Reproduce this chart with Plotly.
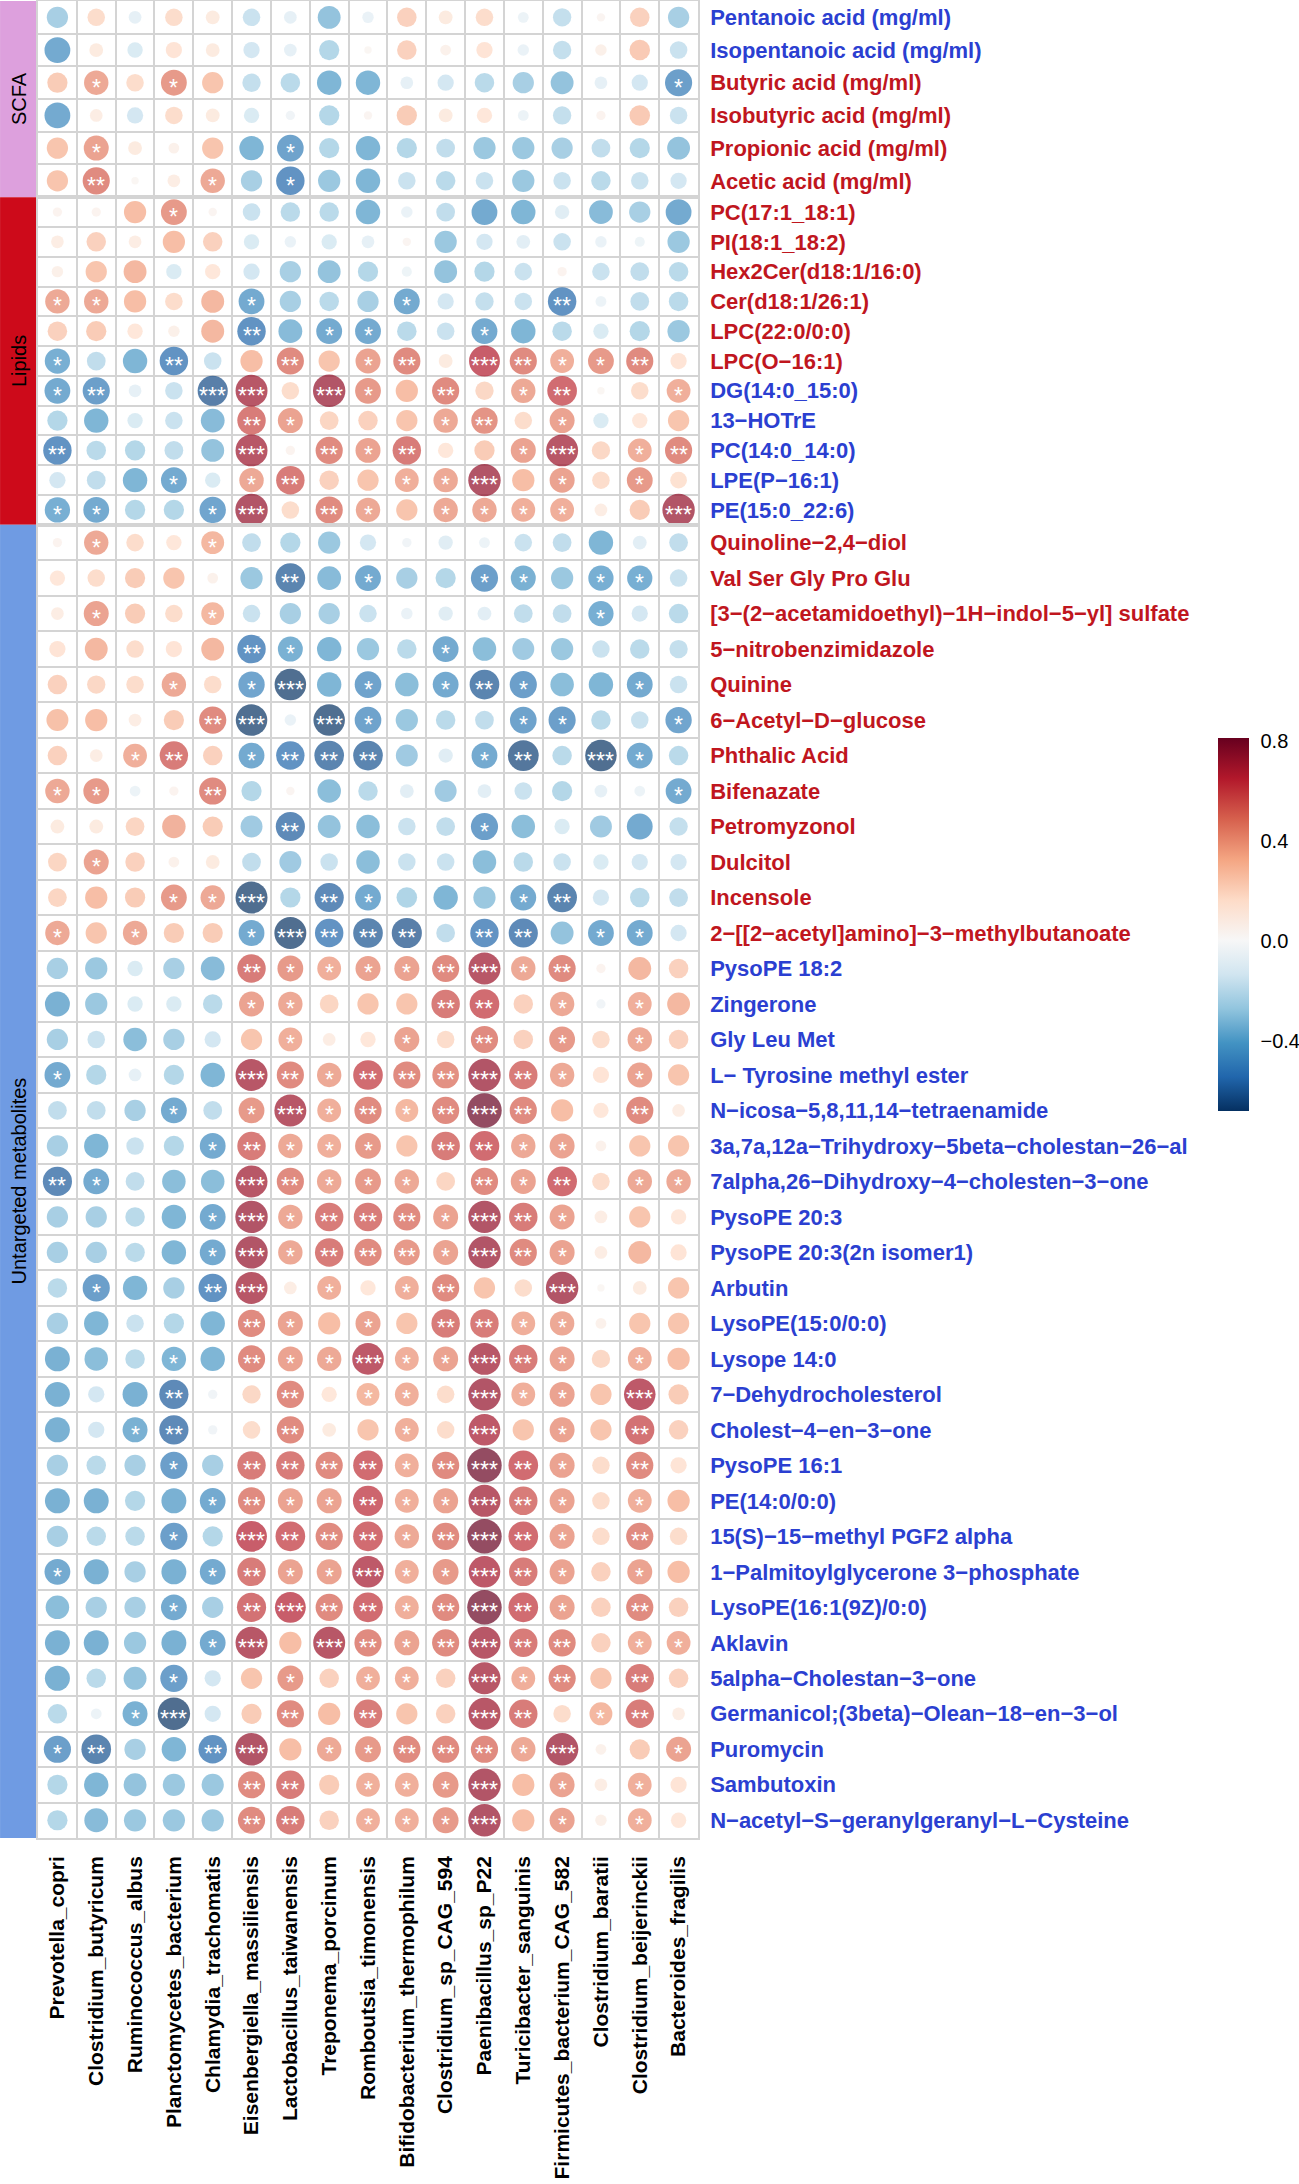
import plotly.graph_objects as go
from plotly.subplots import make_subplots

# ---- data -------------------------------------------------------------
bacteria = [
    "Prevotella_copri", "Clostridium_butyricum", "Ruminococcus_albus",
    "Planctomycetes_bacterium", "Chlamydia_trachomatis", "Eisenbergiella_massiliensis",
    "Lactobacillus_taiwanensis", "Treponema_porcinum", "Romboutsia_timonensis",
    "Bifidobacterium_thermophilum", "Clostridium_sp_CAG_594", "Paenibacillus_sp_P22",
    "Turicibacter_sanguinis", "Firmicutes_bacterium_CAG_582", "Clostridium_baratii",
    "Clostridium_beijerinckii", "Bacteroides_fragilis",
]

scfa_names = [
    "Pentanoic acid (mg/ml)", "Isopentanoic acid (mg/ml)", "Butyric acid (mg/ml)",
    "Isobutyric acid (mg/ml)", "Propionic acid (mg/ml)", "Acetic acid (mg/ml)",
]
scfa_trend = ["down", "down", "up", "up", "up", "up"]
scfa_r = [
    [-0.30, 0.20, -0.10, 0.20, 0.12, -0.20, -0.10, -0.35, -0.08, 0.25, 0.12, 0.20, -0.07, -0.22, 0.04, 0.25, -0.30],
    [-0.45, 0.12, -0.15, 0.17, 0.12, -0.17, -0.10, -0.27, 0.03, 0.25, 0.07, 0.17, -0.08, -0.22, 0.08, 0.28, -0.20],
    [0.27, 0.40, 0.20, 0.45, 0.30, -0.22, -0.25, -0.40, -0.40, -0.10, -0.17, -0.25, -0.30, -0.35, -0.10, -0.17, -0.50],
    [-0.45, 0.10, -0.17, 0.20, 0.12, -0.15, -0.05, -0.27, 0.04, 0.27, 0.12, 0.15, -0.07, -0.22, 0.05, 0.28, -0.20],
    [0.30, 0.42, 0.12, 0.07, 0.30, -0.40, -0.48, -0.27, -0.40, -0.27, -0.23, -0.33, -0.33, -0.30, -0.23, -0.27, -0.35],
    [0.30, 0.50, 0.03, 0.10, 0.40, -0.30, -0.55, -0.33, -0.40, -0.20, -0.25, -0.20, -0.33, -0.20, -0.25, -0.20, -0.17],
]
scfa_sig = [
    [0, 0, 0, 0, 0, 0, 0, 0, 0, 0, 0, 0, 0, 0, 0, 0, 0],
    [0, 0, 0, 0, 0, 0, 0, 0, 0, 0, 0, 0, 0, 0, 0, 0, 0],
    [0, 1, 0, 1, 0, 0, 0, 0, 0, 0, 0, 0, 0, 0, 0, 0, 1],
    [0, 0, 0, 0, 0, 0, 0, 0, 0, 0, 0, 0, 0, 0, 0, 0, 0],
    [0, 1, 0, 0, 0, 0, 1, 0, 0, 0, 0, 0, 0, 0, 0, 0, 0],
    [0, 2, 0, 0, 1, 0, 1, 0, 0, 0, 0, 0, 0, 0, 0, 0, 0],
]

lipid_names = [
    "PC(17:1_18:1)", "PI(18:1_18:2)", "Hex2Cer(d18:1/16:0)", "Cer(d18:1/26:1)",
    "LPC(22:0/0:0)", "LPC(O−16:1)", "DG(14:0_15:0)", "13−HOTrE",
    "PC(14:0_14:0)", "LPE(P−16:1)", "PE(15:0_22:6)",
]
lipid_trend = ["up"] * 6 + ["down"] * 5
lipid_r = [
    [0.05, 0.05, 0.33, 0.45, 0.04, -0.20, -0.25, -0.25, -0.40, -0.08, -0.23, -0.45, -0.40, -0.13, -0.38, -0.30, -0.45],
    [0.10, 0.25, 0.10, 0.33, 0.25, -0.15, -0.08, -0.15, -0.10, 0.04, -0.33, -0.17, -0.12, -0.20, -0.08, -0.06, -0.33],
    [0.08, 0.30, 0.35, -0.15, 0.15, -0.17, -0.30, -0.35, -0.27, -0.06, -0.35, -0.27, -0.20, 0.05, -0.20, -0.23, -0.25],
    [0.40, 0.40, 0.33, 0.20, 0.35, -0.45, -0.30, -0.25, -0.30, -0.45, -0.17, -0.22, -0.20, -0.55, -0.07, -0.23, -0.25],
    [0.25, 0.27, 0.15, 0.08, 0.35, -0.55, -0.38, -0.45, -0.45, -0.25, -0.20, -0.45, -0.40, -0.25, -0.15, -0.27, -0.33],
    [-0.43, -0.23, -0.40, -0.55, -0.20, 0.33, 0.50, 0.30, 0.42, 0.50, 0.12, 0.65, 0.50, 0.38, 0.45, 0.50, 0.17],
    [-0.45, -0.50, -0.10, -0.20, -0.62, 0.70, 0.20, 0.72, 0.45, 0.33, 0.50, 0.22, 0.40, 0.60, 0.03, 0.20, 0.38],
    [-0.27, -0.40, -0.15, -0.20, -0.38, 0.55, 0.42, 0.23, 0.25, 0.30, 0.40, 0.47, 0.20, 0.42, -0.15, 0.15, 0.30],
    [-0.55, -0.25, -0.27, -0.23, -0.35, 0.70, 0.05, 0.50, 0.42, 0.55, 0.15, 0.27, 0.42, 0.70, 0.22, 0.38, 0.50],
    [-0.17, -0.23, -0.40, -0.45, -0.15, 0.40, 0.55, 0.25, 0.30, 0.38, 0.40, 0.72, 0.33, 0.42, 0.20, 0.45, 0.18],
    [-0.43, -0.45, -0.27, -0.27, -0.47, 0.72, 0.20, 0.50, 0.40, 0.30, 0.40, 0.40, 0.38, 0.38, 0.10, 0.27, 0.72],
]
lipid_sig = [
    [0, 0, 0, 1, 0, 0, 0, 0, 0, 0, 0, 0, 0, 0, 0, 0, 0],
    [0, 0, 0, 0, 0, 0, 0, 0, 0, 0, 0, 0, 0, 0, 0, 0, 0],
    [0, 0, 0, 0, 0, 0, 0, 0, 0, 0, 0, 0, 0, 0, 0, 0, 0],
    [1, 1, 0, 0, 0, 1, 0, 0, 0, 1, 0, 0, 0, 2, 0, 0, 0],
    [0, 0, 0, 0, 0, 2, 0, 1, 1, 0, 0, 1, 0, 0, 0, 0, 0],
    [1, 0, 0, 2, 0, 0, 2, 0, 1, 2, 0, 3, 2, 1, 1, 2, 0],
    [1, 2, 0, 0, 3, 3, 0, 3, 1, 0, 2, 0, 1, 2, 0, 0, 1],
    [0, 0, 0, 0, 0, 2, 1, 0, 0, 0, 1, 2, 0, 1, 0, 0, 0],
    [2, 0, 0, 0, 0, 3, 0, 2, 1, 2, 0, 0, 1, 3, 0, 1, 2],
    [0, 0, 0, 1, 0, 1, 2, 0, 0, 1, 1, 3, 0, 1, 0, 1, 0],
    [1, 1, 0, 0, 1, 3, 0, 2, 1, 0, 1, 1, 1, 1, 0, 0, 3],
]

untargeted_names = [
    "Quinoline−2,4−diol", "Val Ser Gly Pro Glu", "[3−(2−acetamidoethyl)−1H−indol−5−yl] sulfate",
    "5−nitrobenzimidazole", "Quinine", "6−Acetyl−D−glucose", "Phthalic Acid", "Bifenazate",
    "Petromyzonol", "Dulcitol", "Incensole", "2−[[2−acetyl]amino]−3−methylbutanoate",
    "PysoPE 18:2", "Zingerone", "Gly Leu Met", "L− Tyrosine methyl ester",
    "N−icosa−5,8,11,14−tetraenamide", "3a,7a,12a−Trihydroxy−5beta−cholestan−26−al",
    "7alpha,26−Dihydroxy−4−cholesten−3−one", "PysoPE 20:3", "PysoPE 20:3(2n isomer1)",
    "Arbutin", "LysoPE(15:0/0:0)", "Lysope 14:0", "7−Dehydrocholesterol",
    "Cholest−4−en−3−one", "PysoPE 16:1", "PE(14:0/0:0)", "15(S)−15−methyl PGF2 alpha",
    "1−Palmitoylglycerone 3−phosphate", "LysoPE(16:1(9Z)/0:0)", "Aklavin",
    "5alpha−Cholestan−3−one", "Germanicol;(3beta)−Olean−18−en−3−ol", "Puromycin",
    "Sambutoxin", "N−acetyl−S−geranylgeranyl−L−Cysteine",
]
untargeted_trend = ["up"] * 12 + ["down"] * 25
untargeted_r = [
    [0.05, 0.40, 0.20, 0.15, 0.35, -0.23, -0.27, -0.33, -0.17, -0.05, -0.13, -0.07, -0.20, -0.23, -0.40, -0.12, -0.23],
    [0.15, 0.20, 0.27, 0.30, 0.07, -0.33, -0.60, -0.38, -0.45, -0.30, -0.27, -0.50, -0.42, -0.33, -0.43, -0.43, -0.20],
    [0.10, 0.42, 0.27, 0.20, 0.35, -0.20, -0.30, -0.30, -0.20, -0.08, -0.13, -0.12, -0.23, -0.23, -0.43, -0.17, -0.25],
    [0.17, 0.35, 0.20, 0.17, 0.35, -0.55, -0.42, -0.40, -0.33, -0.25, -0.45, -0.37, -0.32, -0.33, -0.20, -0.25, -0.22],
    [0.25, 0.22, 0.20, 0.40, 0.20, -0.47, -0.68, -0.40, -0.48, -0.37, -0.45, -0.60, -0.50, -0.37, -0.40, -0.45, -0.20],
    [0.32, 0.33, 0.10, 0.27, 0.50, -0.68, -0.08, -0.68, -0.48, -0.33, -0.25, -0.23, -0.48, -0.50, -0.25, -0.20, -0.47],
    [0.25, 0.10, 0.38, 0.55, 0.25, -0.45, -0.55, -0.60, -0.60, -0.32, -0.13, -0.45, -0.65, -0.25, -0.68, -0.45, -0.25],
    [0.40, 0.45, -0.07, 0.05, 0.50, -0.27, 0.04, -0.37, -0.25, -0.12, -0.32, -0.12, -0.20, -0.27, -0.10, -0.07, -0.45],
    [0.12, 0.12, 0.23, 0.37, 0.27, -0.32, -0.58, -0.35, -0.37, -0.20, -0.23, -0.50, -0.37, -0.15, -0.32, -0.45, -0.22],
    [0.23, 0.42, 0.25, 0.07, 0.12, -0.23, -0.32, -0.20, -0.37, -0.20, -0.20, -0.37, -0.25, -0.20, -0.15, -0.17, -0.17],
    [0.23, 0.33, 0.27, 0.45, 0.40, -0.70, -0.27, -0.58, -0.45, -0.28, -0.40, -0.33, -0.45, -0.60, -0.17, -0.25, -0.23],
    [0.40, 0.30, 0.40, 0.27, 0.27, -0.45, -0.70, -0.55, -0.60, -0.62, -0.23, -0.55, -0.58, -0.35, -0.45, -0.45, -0.17],
    [-0.30, -0.33, -0.15, -0.30, -0.38, 0.55, 0.45, 0.38, 0.42, 0.42, 0.50, 0.70, 0.40, 0.50, 0.05, 0.35, 0.25],
    [-0.42, -0.33, -0.15, -0.15, -0.25, 0.42, 0.40, 0.23, 0.30, 0.30, 0.55, 0.60, 0.25, 0.40, -0.05, 0.38, 0.35],
    [-0.30, -0.20, -0.37, -0.30, -0.17, 0.30, 0.38, 0.10, 0.15, 0.42, 0.20, 0.50, 0.25, 0.45, 0.20, 0.40, 0.25],
    [-0.45, -0.27, -0.10, -0.27, -0.40, 0.70, 0.50, 0.40, 0.60, 0.50, 0.48, 0.72, 0.55, 0.40, 0.17, 0.42, 0.30],
    [-0.23, -0.23, -0.30, -0.45, -0.23, 0.45, 0.70, 0.38, 0.50, 0.35, 0.50, 0.82, 0.50, 0.33, 0.15, 0.50, 0.10],
    [-0.30, -0.40, -0.20, -0.27, -0.45, 0.55, 0.40, 0.38, 0.45, 0.30, 0.55, 0.60, 0.40, 0.42, 0.07, 0.30, 0.30],
    [-0.58, -0.45, -0.23, -0.37, -0.37, 0.70, 0.50, 0.40, 0.45, 0.40, 0.23, 0.50, 0.42, 0.60, 0.20, 0.40, 0.40],
    [-0.30, -0.30, -0.25, -0.40, -0.45, 0.72, 0.40, 0.55, 0.55, 0.50, 0.42, 0.72, 0.55, 0.42, 0.10, 0.30, 0.15],
    [-0.30, -0.30, -0.25, -0.40, -0.45, 0.72, 0.40, 0.55, 0.50, 0.45, 0.42, 0.72, 0.50, 0.42, 0.10, 0.35, 0.17],
    [-0.25, -0.50, -0.40, -0.30, -0.55, 0.70, 0.10, 0.38, 0.15, 0.38, 0.50, 0.30, 0.20, 0.72, 0.03, 0.12, 0.30],
    [-0.30, -0.40, -0.20, -0.27, -0.40, 0.50, 0.42, 0.33, 0.42, 0.30, 0.55, 0.55, 0.38, 0.40, 0.07, 0.30, 0.30],
    [-0.42, -0.37, -0.25, -0.40, -0.40, 0.50, 0.42, 0.40, 0.68, 0.38, 0.42, 0.70, 0.55, 0.42, 0.22, 0.38, 0.33],
    [-0.42, -0.17, -0.42, -0.58, -0.05, 0.22, 0.50, 0.15, 0.35, 0.38, 0.20, 0.72, 0.38, 0.42, 0.30, 0.68, 0.27],
    [-0.42, -0.17, -0.42, -0.58, -0.05, 0.20, 0.50, 0.12, 0.30, 0.38, 0.20, 0.68, 0.30, 0.42, 0.30, 0.58, 0.25],
    [-0.30, -0.25, -0.30, -0.50, -0.30, 0.55, 0.55, 0.50, 0.60, 0.38, 0.50, 0.82, 0.60, 0.42, 0.20, 0.50, 0.17],
    [-0.42, -0.42, -0.27, -0.42, -0.45, 0.50, 0.42, 0.42, 0.62, 0.38, 0.42, 0.70, 0.55, 0.42, 0.20, 0.38, 0.33],
    [-0.30, -0.25, -0.25, -0.50, -0.27, 0.65, 0.60, 0.50, 0.60, 0.40, 0.50, 0.82, 0.60, 0.42, 0.20, 0.50, 0.20],
    [-0.45, -0.42, -0.30, -0.42, -0.45, 0.55, 0.42, 0.42, 0.68, 0.38, 0.45, 0.68, 0.55, 0.42, 0.25, 0.42, 0.33],
    [-0.37, -0.30, -0.30, -0.45, -0.30, 0.58, 0.65, 0.50, 0.60, 0.38, 0.50, 0.82, 0.60, 0.42, 0.25, 0.50, 0.25],
    [-0.42, -0.42, -0.33, -0.42, -0.45, 0.70, 0.33, 0.70, 0.50, 0.42, 0.50, 0.70, 0.55, 0.50, 0.25, 0.38, 0.38],
    [-0.42, -0.25, -0.35, -0.50, -0.17, 0.30, 0.45, 0.25, 0.38, 0.38, 0.25, 0.70, 0.38, 0.50, 0.30, 0.55, 0.25],
    [-0.25, -0.07, -0.42, -0.72, -0.17, 0.27, 0.50, 0.33, 0.55, 0.30, 0.25, 0.70, 0.55, 0.20, 0.35, 0.55, 0.10],
    [-0.50, -0.60, -0.30, -0.40, -0.55, 0.72, 0.33, 0.40, 0.45, 0.50, 0.50, 0.50, 0.40, 0.72, 0.07, 0.27, 0.42],
    [-0.27, -0.40, -0.35, -0.33, -0.33, 0.50, 0.55, 0.27, 0.38, 0.38, 0.45, 0.72, 0.33, 0.42, 0.10, 0.38, 0.17],
    [-0.27, -0.38, -0.33, -0.33, -0.33, 0.50, 0.55, 0.25, 0.38, 0.38, 0.45, 0.72, 0.33, 0.42, 0.08, 0.38, 0.15],
]
untargeted_sig = [
    [0, 1, 0, 0, 1, 0, 0, 0, 0, 0, 0, 0, 0, 0, 0, 0, 0],
    [0, 0, 0, 0, 0, 0, 2, 0, 1, 0, 0, 1, 1, 0, 1, 1, 0],
    [0, 1, 0, 0, 1, 0, 0, 0, 0, 0, 0, 0, 0, 0, 1, 0, 0],
    [0, 0, 0, 0, 0, 2, 1, 0, 0, 0, 1, 0, 0, 0, 0, 0, 0],
    [0, 0, 0, 1, 0, 1, 3, 0, 1, 0, 1, 2, 1, 0, 0, 1, 0],
    [0, 0, 0, 0, 2, 3, 0, 3, 1, 0, 0, 0, 1, 1, 0, 0, 1],
    [0, 0, 1, 2, 0, 1, 2, 2, 2, 0, 0, 1, 2, 0, 3, 1, 0],
    [1, 1, 0, 0, 2, 0, 0, 0, 0, 0, 0, 0, 0, 0, 0, 0, 1],
    [0, 0, 0, 0, 0, 0, 2, 0, 0, 0, 0, 1, 0, 0, 0, 0, 0],
    [0, 1, 0, 0, 0, 0, 0, 0, 0, 0, 0, 0, 0, 0, 0, 0, 0],
    [0, 0, 0, 1, 1, 3, 0, 2, 1, 0, 0, 0, 1, 2, 0, 0, 0],
    [1, 0, 1, 0, 0, 1, 3, 2, 2, 2, 0, 2, 2, 0, 1, 1, 0],
    [0, 0, 0, 0, 0, 2, 1, 1, 1, 1, 2, 3, 1, 2, 0, 0, 0],
    [0, 0, 0, 0, 0, 1, 1, 0, 0, 0, 2, 2, 0, 1, 0, 1, 0],
    [0, 0, 0, 0, 0, 0, 1, 0, 0, 1, 0, 2, 0, 1, 0, 1, 0],
    [1, 0, 0, 0, 0, 3, 2, 1, 2, 2, 2, 3, 2, 1, 0, 1, 0],
    [0, 0, 0, 1, 0, 1, 3, 1, 2, 1, 2, 3, 2, 0, 0, 2, 0],
    [0, 0, 0, 0, 1, 2, 1, 1, 1, 0, 2, 2, 1, 1, 0, 0, 0],
    [2, 1, 0, 0, 0, 3, 2, 1, 1, 1, 0, 2, 1, 2, 0, 1, 1],
    [0, 0, 0, 0, 1, 3, 1, 2, 2, 2, 1, 3, 2, 1, 0, 0, 0],
    [0, 0, 0, 0, 1, 3, 1, 2, 2, 2, 1, 3, 2, 1, 0, 0, 0],
    [0, 1, 0, 0, 2, 3, 0, 1, 0, 1, 2, 0, 0, 3, 0, 0, 0],
    [0, 0, 0, 0, 0, 2, 1, 0, 1, 0, 2, 2, 1, 1, 0, 0, 0],
    [0, 0, 0, 1, 0, 2, 1, 1, 3, 1, 1, 3, 2, 1, 0, 1, 0],
    [0, 0, 0, 2, 0, 0, 2, 0, 1, 1, 0, 3, 1, 1, 0, 3, 0],
    [0, 0, 1, 2, 0, 0, 2, 0, 0, 1, 0, 3, 0, 1, 0, 2, 0],
    [0, 0, 0, 1, 0, 2, 2, 2, 2, 1, 2, 3, 2, 1, 0, 2, 0],
    [0, 0, 0, 0, 1, 2, 1, 1, 2, 1, 1, 3, 2, 1, 0, 1, 0],
    [0, 0, 0, 1, 0, 3, 2, 2, 2, 1, 2, 3, 2, 1, 0, 2, 0],
    [1, 0, 0, 0, 1, 2, 1, 1, 3, 1, 1, 3, 2, 1, 0, 1, 0],
    [0, 0, 0, 1, 0, 2, 3, 2, 2, 1, 2, 3, 2, 1, 0, 2, 0],
    [0, 0, 0, 0, 1, 3, 0, 3, 2, 1, 2, 3, 2, 2, 0, 1, 1],
    [0, 0, 0, 1, 0, 0, 1, 0, 1, 1, 0, 3, 1, 2, 0, 2, 0],
    [0, 0, 1, 3, 0, 0, 2, 0, 2, 0, 0, 3, 2, 0, 1, 2, 0],
    [1, 2, 0, 0, 2, 3, 0, 1, 1, 2, 2, 2, 1, 3, 0, 0, 1],
    [0, 0, 0, 0, 0, 2, 2, 0, 1, 1, 1, 3, 0, 1, 0, 1, 0],
    [0, 0, 0, 0, 0, 2, 2, 0, 1, 1, 1, 3, 0, 1, 0, 1, 0],
]

group_titles = ["SCFA", "Lipids", "Untargeted metabolites"]

# ---- style ------------------------------------------------------------
FONT = "Arial, Liberation Sans, sans-serif"
GROUP_COLORS = ["#DDA0DD", "#CD0A1A", "#6F9BE3"]
TREND_COLORS = {"up": "#C0161E", "down": "#2B3FD1"}
ROW_PX = [32.7, 29.8, 35.5]          # row height of each block, px
GRID = "#D4D4D4"
CMIN, CMAX = -0.684, 0.81

W, H = 1299, 2184
ML, MR, MT, MB = 38, 600, 1, 346
plot_w = W - ML - MR
plot_h = H - MT - MB

blues = ["#053061", "#2166AC", "#4393C3", "#92C5DE", "#D1E5F0"]
reds = ["#FDDBC7", "#F4A582", "#D6604D", "#B2182B", "#67001F"]
mid = -CMIN / (CMAX - CMIN)
colorscale = [[mid * i / 5, c] for i, c in enumerate(blues)]
colorscale += [[mid, "#F7F7F7"]]
colorscale += [[mid + (1 - mid) * (i + 1) / 5, c] for i, c in enumerate(reds)]

groups = [
    (scfa_names, scfa_trend, scfa_r, scfa_sig),
    (lipid_names, lipid_trend, lipid_r, lipid_sig),
    (untargeted_names, untargeted_trend, untargeted_r, untargeted_sig),
]
block_px = [len(g[0]) * h for g, h in zip(groups, ROW_PX)]

fig = make_subplots(rows=3, cols=1, shared_xaxes=True, vertical_spacing=0,
                    row_heights=block_px)

star_notes = []
for gi, (names, trend, rvals, sig) in enumerate(groups):
    xs, ys, cs, ss = [], [], [], []
    axis_id = "" if gi == 0 else str(gi + 1)
    for ri, name in enumerate(names):
        for ci, bug in enumerate(bacteria):
            v = rvals[ri][ci]
            xs.append(bug)
            ys.append(name)
            cs.append(v)
            ss.append(37 * abs(v) ** 0.5 + 1)
            if sig[ri][ci]:
                star_notes.append(dict(
                    x=bug, y=name, xref="x" + axis_id, yref="y" + axis_id,
                    text="*" * sig[ri][ci], showarrow=False, yshift=-5,
                    xanchor="center", yanchor="middle",
                    font=dict(family=FONT, size=23, color="white"),
                ))
    fig.add_trace(go.Scatter(
        x=xs, y=ys, mode="markers",
        marker=dict(size=ss, color=cs, coloraxis="coloraxis", line=dict(width=0)),
        hovertemplate="%{y}<br>%{x}<br>r = %{marker.color}<extra></extra>",
    ), row=gi + 1, col=1)

    ticktext = [f"<span style='color:{TREND_COLORS[t]}'>{n}</span>" for n, t in zip(names, trend)]
    fig.update_yaxes(
        row=gi + 1, col=1, type="category", categoryorder="array", categoryarray=names,
        tickmode="array", tickvals=names, ticktext=ticktext,
        range=[len(names) - 0.5, -0.5], side="right", tickson="boundaries",
        showgrid=True, gridcolor=GRID, gridwidth=1.5, ticks="", zeroline=False,
        showline=True, mirror=True, linecolor=GRID, linewidth=1.5,
        ticklabelstandoff=6, automargin=False,
        tickfont=dict(family=FONT, size=22, weight="bold"),
    )
    ydom = "y domain" if gi == 0 else f"y{gi + 1} domain"
    fig.add_shape(type="rect", xref="paper", yref=ydom,
                  x0=-ML / plot_w, x1=0, y0=0, y1=1,
                  fillcolor=GROUP_COLORS[gi], line=dict(width=0), layer="below")
    fig.add_annotation(xref="paper", yref=ydom, x=-ML / plot_w / 2, y=0.5,
                       xanchor="center", yanchor="middle",
                       text=group_titles[gi], textangle=-90, showarrow=False,
                       font=dict(family=FONT, size=20, color="black"))

for note in star_notes:
    fig.add_annotation(**note)

fig.update_xaxes(
    type="category", categoryorder="array", categoryarray=bacteria,
    range=[-0.5, len(bacteria) - 0.5], tickson="boundaries",
    showgrid=True, gridcolor=GRID, gridwidth=1.5, ticks="", zeroline=False,
    showline=True, mirror=True, linecolor=GRID, linewidth=1.5, automargin=False,
)
fig.update_xaxes(row=3, col=1, tickangle=-90, ticklabelstandoff=8,
                 tickfont=dict(family=FONT, size=21, color="black", weight="bold"))

fig.update_layout(
    width=W, height=H,
    margin=dict(l=ML, r=MR, t=MT, b=MB),
    paper_bgcolor="white", plot_bgcolor="white",
    showlegend=False,
    font=dict(family=FONT, color="black"),
    coloraxis=dict(
        colorscale=colorscale, cmin=CMIN, cmax=CMAX,
        colorbar=dict(
            x=(1218 - ML) / plot_w, xanchor="left",
            y=(H - MB - 925) / plot_h, yanchor="middle",
            thickness=31, len=373, lenmode="pixels", outlinewidth=0,
            tickvals=[-0.4, 0.0, 0.4, 0.8], ticktext=["−0.4", "0.0", "0.4", "0.8"],
            ticks="outside", ticklen=8, tickcolor="rgba(0,0,0,0)",
            tickfont=dict(family=FONT, size=20, color="black"),
            xpad=0, ypad=0,
        ),
    ),
)

# the page body has a default 8px margin; drop it so the figure sits at 0,0
fig.write_html("out.html", config={"displayModeBar": False},
               post_script="document.body.style.margin='0px';")
